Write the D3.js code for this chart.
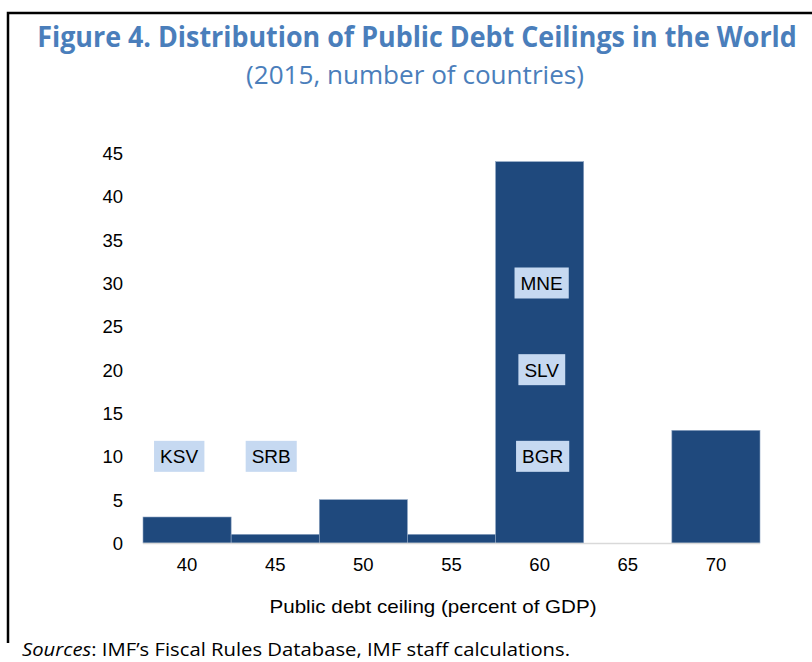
<!DOCTYPE html>
<html>
<head>
<meta charset="utf-8">
<script src="https://cdn.jsdelivr.net/npm/d3@7"></script>
<style>
  html, body { margin: 0; padding: 0; background: #fff; }
  svg { display: block; }
</style>
</head>
<body>
<svg id="chart" width="812" height="662"></svg>
<script>
// Public debt ceilings (percent of GDP) and number of countries at each level
const ceilings = ["40", "45", "50", "55", "60", "65", "70"];
const countries = [3, 1, 5, 1, 44, 0, 13];
const yTicks = [0, 5, 10, 15, 20, 25, 30, 35, 40, 45];

// Country code call-outs: ceiling they sit at, and count level where they are placed
const calloutCodes = ["KSV", "SRB", "BGR", "SLV", "MNE"];
const calloutCeilings = ["40", "45", "60", "60", "60"];
const calloutLevels = [10, 10, 10, 20, 30];
const calloutShift = [-8, -4, 3, 2, 2];

const titleText = "Figure 4. Distribution of Public Debt Ceilings in the World";
const subtitleText = "(2015, number of countries)";
const xTitle = "Public debt ceiling (percent of GDP)";

const svg = d3.select("#chart");
const margin = { left: 143, right: 52, top: 153, bottom: 119 };
const W = 812, H = 662;
const axisFont = "'Liberation Sans', Arial, sans-serif";

const x = d3.scaleBand().domain(ceilings)
  .range([margin.left, W - margin.right]).paddingInner(0).paddingOuter(0);
const y = d3.scaleLinear().domain([0, 45]).range([H - margin.bottom, margin.top]);

// Frame
svg.append("path")
  .attr("d", `M8,643 V13 H812`)
  .attr("fill", "none").attr("stroke", "#000").attr("stroke-width", 2.5);

// Text squeezed horizontally to a target width, keeping its glyph height
function fittedText(cx, baseline, str, size, weight, width) {
  const g = svg.append("g").attr("transform", `translate(${cx},${baseline})`);
  const t = g.append("text")
    .attr("text-anchor", "middle")
    .attr("font-family", "'Open Sans', sans-serif")
    .attr("font-weight", weight).attr("font-size", size)
    .attr("fill", "#4A7EBB")
    .text(str);
  const len = t.node().getComputedTextLength();
  t.attr("transform", `scale(${width / len},1)`);
  return t;
}
fittedText(417, 47, titleText, 28, "bold", 760);
fittedText(415, 84, subtitleText, 25, "normal", 338);

// Bars
const data = ceilings.map((c, i) => ({ c, v: countries[i] }));
svg.append("g").selectAll("rect").data(data).join("rect")
  .attr("x", d => x(d.c))
  .attr("y", d => y(d.v))
  .attr("width", x.bandwidth())
  .attr("height", d => y(0) - y(d.v))
  .attr("fill", "#1F497D")
  .attr("stroke", d => d.v > 0 ? "#8EA4C2" : "none")
  .attr("stroke-width", 0.6);

// Baseline
svg.append("line")
  .attr("x1", margin.left).attr("x2", W - margin.right)
  .attr("y1", y(0) + 0.5).attr("y2", y(0) + 0.5)
  .attr("stroke", "#D9D9D9").attr("stroke-width", 1.5);

// Y axis labels
const yAxis = d3.axisLeft(y).tickValues(yTicks).tickSize(0).tickPadding(0);
const gy = svg.append("g").attr("transform", "translate(123,0)").call(yAxis);
gy.select(".domain").remove();
gy.selectAll("text")
  .attr("font-family", axisFont)
  .attr("font-size", 18.5).attr("fill", "#000").attr("dy", "0.35em");

// X axis labels
const xAxis = d3.axisBottom(x).tickSize(0).tickPadding(0);
const gx = svg.append("g").attr("transform", `translate(0,${y(0) + 22})`).call(xAxis);
gx.select(".domain").remove();
gx.selectAll("text")
  .attr("font-family", axisFont)
  .attr("font-size", 18.5).attr("fill", "#000").attr("dy", "0.35em");

// X axis title
svg.append("text")
  .attr("x", 433).attr("y", 613)
  .attr("text-anchor", "middle")
  .attr("font-family", axisFont)
  .attr("font-size", 19).attr("fill", "#000")
  .attr("textLength", 327).attr("lengthAdjust", "spacingAndGlyphs")
  .text(xTitle);

// Call-outs
const callouts = calloutCodes.map((code, i) => ({
  code, c: calloutCeilings[i], v: calloutLevels[i], dx: calloutShift[i]
}));
const cg = svg.append("g").selectAll("g").data(callouts).join("g")
  .attr("transform", d => `translate(${x(d.c) + x.bandwidth() / 2 + d.dx},${y(d.v)})`);
cg.append("text")
  .attr("text-anchor", "middle").attr("dy", "0.36em")
  .attr("font-family", axisFont)
  .attr("font-size", 19).attr("fill", "#000")
  .text(d => d.code)
  .each(function () {
    const bb = this.getBBox();
    d3.select(this.parentNode).insert("rect", "text")
      .attr("x", bb.x - 6).attr("y", -15.5)
      .attr("width", bb.width + 12).attr("height", 31)
      .attr("fill", "#C6D9F1");
  });

// Source note
const src = svg.append("text")
  .attr("x", 22).attr("y", 656)
  .attr("font-family", "'Open Sans', sans-serif")
  .attr("font-size", 18).attr("fill", "#000")
  .attr("textLength", 548).attr("lengthAdjust", "spacingAndGlyphs");
src.append("tspan").attr("font-style", "italic").text("Sources");
src.append("tspan").text(": IMF\u2019s Fiscal Rules Database, IMF staff calculations.");
</script>
</body>
</html>
